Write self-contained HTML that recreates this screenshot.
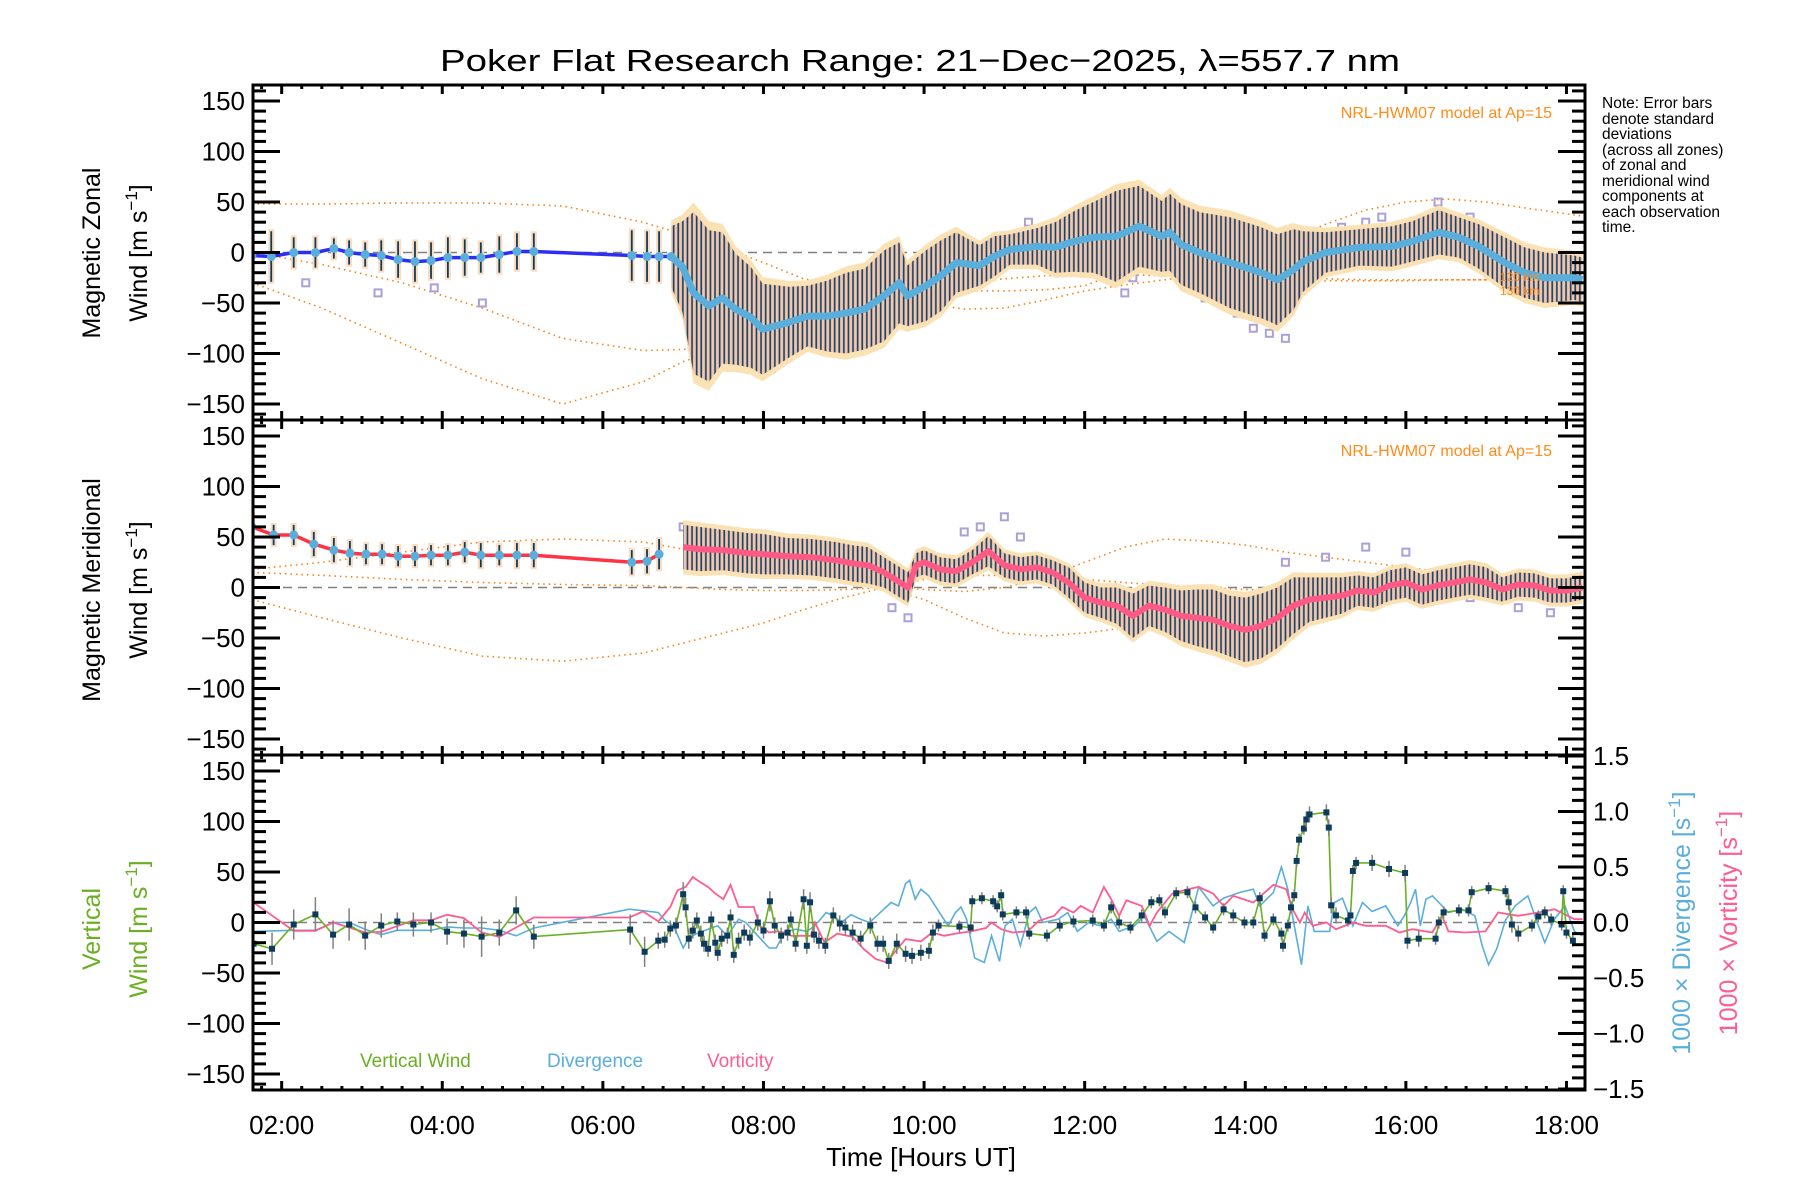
<!DOCTYPE html>
<html><head><meta charset="utf-8"><style>
html,body{margin:0;padding:0;background:#fff;}
svg{display:block;font-family:"Liberation Sans",sans-serif;}
</style></head>
<body>
<svg id="chart" width="1800" height="1200" viewBox="0 0 1800 1200" xmlns="http://www.w3.org/2000/svg">
<defs>
<pattern id="stripes" patternUnits="userSpaceOnUse" width="4.6" height="10">
<rect x="0" y="0" width="4.6" height="10" fill="#f6c6ab"/>
<rect x="1.2" y="0" width="1.7" height="10" fill="#16466b"/>
</pattern>
<clipPath id="clip1"><rect x="253" y="85" width="1332" height="335"/></clipPath>
<clipPath id="clip2"><rect x="253" y="420" width="1332" height="335"/></clipPath>
<clipPath id="clip3"><rect x="253" y="755" width="1332" height="335"/></clipPath>
</defs>
<g id="layer"></g>
<text x="920" y="71" font-size="31" text-anchor="middle" textLength="960" lengthAdjust="spacingAndGlyphs">Poker Flat Research Range: 21−Dec−2025, λ=557.7 nm</text>
<text x="1552" y="118" font-size="16" fill="#ff8c1a" text-anchor="end">NRL-HWM07 model at Ap=15</text>
<text x="1552" y="456" font-size="16" fill="#ff8c1a" text-anchor="end">NRL-HWM07 model at Ap=15</text>
<text x="1500" y="281" font-size="12" fill="#ff8c1a">120 km</text>
<text x="1500" y="295" font-size="12" fill="#ff8c1a">130 km</text>
<g font-size="15.5" fill="#000">
<text x="1602" y="108">Note: Error bars</text>
<text x="1602" y="124">denote standard</text>
<text x="1602" y="139">deviations</text>
<text x="1602" y="155">(across all zones)</text>
<text x="1602" y="170">of zonal and</text>
<text x="1602" y="186">meridional wind</text>
<text x="1602" y="201">components at</text>
<text x="1602" y="217">each observation</text>
<text x="1602" y="232">time.</text>
</g>
<text transform="translate(100,253) rotate(-90)" font-size="25" text-anchor="middle">Magnetic Zonal</text>
<text transform="translate(147,253) rotate(-90)" font-size="25" text-anchor="middle">Wind [m s<tspan dy="-10" font-size="17">−1</tspan><tspan dy="10">]</tspan></text>
<text transform="translate(100,590) rotate(-90)" font-size="25" text-anchor="middle">Magnetic Meridional</text>
<text transform="translate(147,590) rotate(-90)" font-size="25" text-anchor="middle">Wind [m s<tspan dy="-10" font-size="17">−1</tspan><tspan dy="10">]</tspan></text>
<text transform="translate(100,929) rotate(-90)" font-size="25" fill="#6ab023" text-anchor="middle">Vertical</text>
<text transform="translate(147,929) rotate(-90)" font-size="25" fill="#6ab023" text-anchor="middle">Wind [m s<tspan dy="-10" font-size="17">−1</tspan><tspan dy="10">]</tspan></text>
<text transform="translate(1690,923) rotate(-90)" font-size="25" fill="#5aaedc" text-anchor="middle">1000 × Divergence [s<tspan dy="-10" font-size="17">−1</tspan><tspan dy="10">]</tspan></text>
<text transform="translate(1737,923) rotate(-90)" font-size="25" fill="#ff5c8f" text-anchor="middle">1000 × Vorticity [s<tspan dy="-10" font-size="17">−1</tspan><tspan dy="10">]</tspan></text>
<text x="360" y="1067" font-size="19" fill="#6ab023">Vertical Wind</text>
<text x="547" y="1067" font-size="19" fill="#5aaedc">Divergence</text>
<text x="707" y="1067" font-size="19" fill="#ff5c8f">Vorticity</text>
<text x="921" y="1166" font-size="26" text-anchor="middle">Time [Hours UT]</text>
</svg>
<script>
// ---- data ----
const zonalHours=[1.63,1.87,2.15,2.42,2.65,2.84,3.04,3.24,3.45,3.66,3.86,4.07,4.28,4.48,4.71,4.93,5.14,6.36,6.55,6.7,6.85,6.99,7.13,7.32,7.49,7.65,7.84,7.99,8.32,8.55,8.79,9.03,9.26,9.5,9.69,9.79,10.02,10.21,10.4,10.69,10.87,11.07,11.4,11.63,11.87,12.11,12.39,12.68,12.96,13.06,13.2,13.43,13.81,14.2,14.4,14.6,14.72,15.0,15.42,15.83,16.08,16.41,16.66,16.91,17.23,17.48,17.73,18.1,18.2];
const zonalMean=[-3,-4,0,0,4,0,-2,-3,-7,-9,-8,-5,-5,-5,-2,1,1,-3,-4,-4,-4,-14,-40,-53,-45,-56,-64,-76,-69,-63,-63,-60,-56,-43,-30,-43,-33,-23,-10,-13,-4,3,6,5,11,15,16,26,16,20,8,0,-10,-20,-27,-17,-9,0,5,6,11,20,15,6,-10,-20,-25,-25,-27];
const zonalSd=[22,25,15,15,10,12,12,15,18,20,18,20,18,15,18,18,18,25,25,25,30,45,80,75,65,55,50,45,35,30,35,40,40,45,40,30,35,35,30,20,20,15,18,25,30,35,45,40,35,38,40,40,45,45,45,40,30,20,18,20,20,22,20,22,25,25,25,22,22];
const meridHours=[1.63,1.9,2.15,2.4,2.65,2.85,3.05,3.25,3.45,3.66,3.86,4.07,4.28,4.48,4.71,4.93,5.14,6.36,6.55,6.7,7.0,7.2,7.5,7.8,8.0,8.3,8.6,8.9,9.1,9.3,9.5,9.7,9.8,9.9,10.0,10.2,10.4,10.6,10.8,11.0,11.2,11.4,11.6,11.8,12.0,12.2,12.4,12.6,12.8,13.0,13.2,13.4,13.6,13.8,14.0,14.2,14.4,14.6,14.8,15.0,15.2,15.4,15.6,15.8,16.0,16.2,16.4,16.6,16.8,17.0,17.2,17.4,17.6,17.8,18.0,18.2];
const meridMean=[60,52,52,43,37,34,33,33,31,31,32,32,35,32,32,32,32,25,26,33,40,38,37,34,33,31,30,27,24,22,15,5,0,22,25,18,16,25,36,22,18,20,15,5,-10,-15,-18,-28,-18,-22,-28,-30,-32,-38,-42,-38,-30,-18,-12,-10,-8,-3,-5,2,5,-2,2,5,8,5,-2,3,2,-3,-3,0];
const meridSd=[12,10,10,12,12,12,10,10,10,10,10,10,10,12,10,12,12,12,12,15,22,22,20,20,20,18,18,18,18,18,15,15,15,12,12,12,12,12,15,12,12,12,12,15,15,15,18,22,20,22,25,28,30,30,32,32,30,28,22,20,18,15,15,15,15,15,15,15,15,15,12,12,12,12,12,12];
const modelHours=[1.63,2.5,3.5,4.5,5.5,6.5,7,7.5,8,8.5,9,9.5,10,10.5,11,11.5,12,12.5,13,13.5,14,14.5,15,15.5,16,16.5,17,17.5,18.2];
const zonalModelA=[48,48,49,49,46,30,18,5,-10,-26,-33,-42,-50,-56,-55,-47,-38,-32,-27,-21,-8,10,28,42,50,53,50,44,36];
const zonalModelB=[-30,-55,-90,-125,-150,-128,-108,-95,-85,-74,-62,-48,-40,-38,-38,-37,-33,-18,-8,-3,-8,-20,-26,-27,-27,-27,-27,-26,-26];
const zonalModelC=[0,-12,-30,-55,-85,-97,-96,-90,-80,-66,-55,-45,-36,-30,-26,-23,-22,-22,-23,-25,-27,-28,-28,-28,-28,-27,-27,-28,-30];
const meridModelA=[18,25,35,45,48,45,38,30,22,15,8,2,-2,-4,0,10,25,40,48,46,42,35,30,25,20,15,12,10,8];
const meridModelB=[-12,-30,-50,-68,-73,-65,-55,-45,-35,-22,-10,0,8,12,12,10,8,5,2,0,-2,-3,-3,0,3,5,6,5,4];
const meridModelC=[15,12,8,5,3,2,0,-2,-3,-3,-2,0,-12,-30,-45,-48,-45,-40,-30,-20,-10,-3,2,5,8,8,10,8,5];
const zonalZoneHours=[7.8,8.0,8.1,8.3,8.6,10.4,10.6,11.2,11.3,12.5,12.6,13.5,13.9,14.1,14.3,14.5,15.2,15.5,15.7,16.0,16.4,16.8,17.1,17.9,2.3,3.2,3.9,4.5];
const zonalZoneVals=[-90,-100,-115,-88,-80,-25,-30,-5,30,-40,-25,-45,-60,-75,-80,-85,25,30,35,-5,50,35,-10,-35,-30,-40,-35,-50];
const meridZoneHours=[7.0,7.3,7.6,8.4,8.8,9.6,9.8,10.5,10.7,11.0,11.2,12.3,12.6,13.0,13.4,13.8,14.2,14.5,15.0,15.5,16.0,16.4,16.8,17.4,17.8,18.1];
const meridZoneVals=[60,55,50,45,40,-20,-30,55,60,70,50,-20,-35,-40,-25,-30,-35,25,30,40,35,15,-10,-20,-25,5];
const vertHours=[1.65,1.88,2.15,2.42,2.64,2.84,3.04,3.24,3.44,3.64,3.86,4.06,4.27,4.49,4.71,4.92,5.14,6.34,6.52,6.69,6.77,6.84,6.91,7.0,7.03,7.07,7.12,7.17,7.22,7.26,7.31,7.35,7.4,7.43,7.48,7.55,7.59,7.63,7.69,7.76,7.83,7.93,8.0,8.08,8.14,8.22,8.3,8.34,8.4,8.5,8.54,8.58,8.63,8.69,8.77,8.87,8.95,9.02,9.11,9.21,9.33,9.42,9.49,9.56,9.66,9.77,9.85,9.96,10.06,10.11,10.18,10.44,10.58,10.6,10.72,10.86,10.91,10.96,10.98,11.15,11.27,11.31,11.53,11.69,11.86,12.1,12.24,12.33,12.43,12.57,12.71,12.83,12.93,13.0,13.14,13.28,13.38,13.5,13.6,13.73,13.85,13.99,14.1,14.18,14.24,14.35,14.45,14.47,14.53,14.57,14.61,14.64,14.67,14.73,14.76,14.8,15.01,15.04,15.07,15.13,15.28,15.31,15.34,15.38,15.58,15.79,15.99,16.02,16.16,16.37,16.41,16.47,16.66,16.78,16.82,17.03,17.24,17.28,17.32,17.4,17.57,17.65,17.73,17.81,17.94,17.96,18.0,18.08];
const vertWind=[-21,-26,-2,8,-12,-2,-13,-3,1,-2,0,-9,-11,-14,-10,12,-14,-7,-29,-18,-17,-6,-3,28,15,-16,-8,2,-11,-21,-26,3,-20,-30,-16,-13,5,-32,-18,-10,-15,0,-8,21,-3,-13,-10,3,-21,23,-23,20,-12,-18,-23,7,-1,-5,-10,-16,-3,-21,-21,-38,-21,-31,-33,-30,-28,-10,-3,-4,-5,21,24,21,16,27,8,10,10,-11,-13,-3,1,2,-3,15,0,-5,7,20,22,10,29,30,15,5,-5,13,7,0,0,24,-13,3,-11,-23,-3,15,27,61,82,93,102,107,109,94,17,7,2,7,51,59,59,53,49,-18,-16,-16,0,10,12,12,30,34,31,20,-2,-11,-3,6,10,3,-2,31,-10,-18];
const vertErr=[20,16,15,17,14,16,14,12,9,12,10,13,14,20,13,14,12,15,15,8,8,8,8,12,10,10,8,8,8,8,8,8,8,8,8,8,8,8,8,8,8,8,8,10,8,8,8,8,8,10,8,10,8,8,8,8,8,8,8,8,8,8,8,8,10,8,8,8,8,8,6,6,6,6,6,6,6,6,6,6,6,6,6,6,6,6,6,6,6,6,6,6,6,6,6,6,6,6,6,6,6,6,6,6,6,6,6,6,6,6,6,6,6,6,8,8,8,8,8,8,6,6,6,6,8,8,8,8,8,6,6,6,6,6,6,6,6,8,8,8,6,6,6,6,6,6,6,6,8,8];
const divHours=[1.65,2.15,2.42,2.64,2.84,3.04,3.24,3.44,3.64,3.86,4.06,4.27,4.49,4.71,4.92,5.14,6.33,6.46,6.69,6.77,6.88,7.0,7.07,7.17,7.31,7.43,7.55,7.69,7.78,7.93,8.07,8.16,8.26,8.4,8.54,8.64,8.78,8.87,8.97,9.09,9.21,9.32,9.44,9.59,9.68,9.77,9.82,9.89,9.96,10.06,10.2,10.3,10.39,10.46,10.53,10.63,10.75,10.84,10.94,11.01,11.1,11.2,11.31,11.39,11.48,11.67,11.79,11.91,12.05,12.19,12.33,12.43,12.62,12.74,12.9,13.05,13.24,13.42,13.6,13.73,13.93,14.1,14.18,14.35,14.45,14.53,14.61,14.7,14.78,14.86,15.05,15.11,15.21,15.34,15.46,15.58,15.75,15.9,15.98,16.06,16.12,16.18,16.25,16.33,16.41,16.53,16.7,16.86,16.95,17.03,17.13,17.24,17.36,17.52,17.65,17.73,17.85,17.98,18.1,18.2];
const divergence=[-0.08,-0.07,-0.07,0,0,-0.06,-0.11,-0.07,-0.07,-0.07,-0.04,-0.05,-0.05,-0.07,-0.12,-0.05,0.12,0.11,0.09,0.02,-0.03,-0.23,-0.14,-0.1,-0.06,-0.03,-0.12,0.03,0,-0.12,-0.23,-0.23,-0.09,-0.06,-0.08,-0.03,0.09,0.06,0,0.07,0.03,0,0.08,0.18,0.15,0.35,0.38,0.21,0.3,0.24,0.08,-0.03,0.09,0.14,0.03,-0.32,-0.36,-0.12,-0.35,-0.03,0.03,-0.21,0.09,0.14,0,0.03,0.09,-0.08,0,-0.03,0.03,-0.08,-0.03,0.06,-0.17,-0.08,-0.18,0.32,0.15,0.22,0.27,0.3,0.15,0.27,0.5,0.3,-0.03,-0.38,0.15,-0.08,-0.08,0.18,0.22,-0.03,0.18,0.1,0.15,-0.03,0.06,0.18,0.3,-0.03,0.21,0.24,0.18,0.09,0.12,0.06,-0.21,-0.38,-0.24,0.02,0.15,0.24,-0.03,-0.18,0.03,0.15,-0.08,-0.12];
const vortHours=[1.63,2.15,2.42,2.64,3.04,3.24,3.64,3.86,4.06,4.27,4.49,4.71,5.14,6.33,6.5,6.69,6.84,6.93,7.03,7.12,7.22,7.31,7.4,7.5,7.59,7.69,7.78,7.88,7.95,8.07,8.16,8.26,8.35,8.59,8.64,8.76,8.92,9.11,9.25,9.4,9.54,9.63,9.77,9.96,10.1,10.25,10.39,10.58,10.77,10.84,10.96,11.1,11.29,11.43,11.62,11.72,11.86,11.95,12.1,12.24,12.33,12.43,12.52,12.71,12.81,12.9,13.09,13.28,13.42,13.6,13.73,13.85,14.1,14.35,14.51,14.59,14.68,14.74,14.84,15.01,15.13,15.34,15.5,15.75,15.92,16.08,16.33,16.45,16.53,16.74,16.99,17.15,17.4,17.65,17.85,18.1,18.2];
const vorticity=[0.19,-0.075,-0.075,0,-0.09,-0.085,0.02,0.02,0.07,0.04,-0.09,-0.13,0.045,0.045,0.1,0.01,0.14,0.29,0.32,0.41,0.36,0.32,0.26,0.21,0.34,0.14,0.14,0.14,-0.03,-0.09,-0.08,-0.09,-0.12,-0.12,0,-0.18,-0.1,-0.13,-0.24,-0.33,-0.36,-0.27,-0.15,-0.17,-0.09,-0.12,-0.1,-0.08,-0.05,0,-0.06,-0.09,-0.08,0.015,0.06,0.14,0.09,0.15,0.09,0.32,0.21,0.06,0.2,0.15,-0.03,0.09,0.26,0.3,0.32,0.26,0.15,0.24,0.18,0.34,0.3,0.12,0,0.09,-0.03,0,-0.06,0,-0.03,-0.03,-0.09,-0.06,-0.09,0.06,-0.08,-0.09,-0.08,0.09,0.06,0.09,0.12,0.03,0.03];
const leftTicks=[150,100,50,0,-50,-100,-150];
const leftTickLabels=["150","100","50","0","−50","−100","−150"];
const rightTicks=[1.5,1.0,0.5,0,-0.5,-1.0,-1.5];
const rightTickLabels=["1.5","1.0","0.5","0.0","−0.5","−1.0","−1.5"];
const timeTicks=[2,4,6,8,10,12,14,16,18];
const timeTickLabels=["02:00","04:00","06:00","08:00","10:00","12:00","14:00","16:00","18:00"];

// ---- axes ----
const X0=253,X1=1585,H0=1.643,PXH=80.3;
const panelTop=[85,420,755],PH=335,UNIT=1.01,RUNIT=111;
const X=h=>X0+(h-H0)*PXH;
const Y=(p,v)=>panelTop[p]+PH/2-v*UNIT;
const YR=r=>panelTop[2]+PH/2-r*RUNIT;
const NS="http://www.w3.org/2000/svg";
const layer=document.getElementById('layer');
function mk(tag,attrs,parent){const e=document.createElementNS(NS,tag);for(const k in attrs)e.setAttribute(k,attrs[k]);(parent||layer).appendChild(e);return e;}
function pts(hs,vs,f){return hs.map((h,i)=>X(h).toFixed(1)+','+f(vs[i]).toFixed(1)).join(' ');}

const panelNames=['zonal-panel','meridional-panel','vertical-panel'];
const panels=[];
for(let p=0;p<3;p++){
  const g=mk('g',{'clip-path':'url(#clip'+(p+1)+')'});
  
  
  panels.push(g);
  const z=mk('line',{x1:X0,x2:X1,y1:Y(p,0),y2:Y(p,0),stroke:'#808080','stroke-width':1.5,'stroke-dasharray':'9 6'},g);
  
  
}

function modelLine(p,vals,name){
  const e=mk('polyline',{points:pts(modelHours,vals,v=>Y(p,v)),fill:'none',stroke:'#ff7f0e','stroke-width':1.6,'stroke-dasharray':'1.5 4'},panels[p]);
  
  
}
function windPanel(p,hs,mean,sd,zh,zv,earlyColor,lateColor,lateWidth,pre){
  const g=panels[p];
  zh.forEach((h,i)=>{const r=mk('rect',{x:X(h)-3.5,y:Y(p,zv[i])-3.5,width:7,height:7,fill:'none',stroke:'#a9a1d8','stroke-width':2},g);
    
    });
  const idx=hs.map((h,i)=>i).filter(i=>hs[i]>=6.8);
  const up=idx.map(i=>X(hs[i]).toFixed(1)+','+Y(p,mean[i]+sd[i]*1.08+3).toFixed(1));
  const dn=idx.slice().reverse().map(i=>X(hs[i]).toFixed(1)+','+Y(p,mean[i]-sd[i]*1.08-3).toFixed(1));
  const halo=mk('polygon',{points:up.concat(dn).join(' '),fill:'#fbe2b4'},g);
  
  
  const up2=idx.map(i=>X(hs[i]).toFixed(1)+','+Y(p,mean[i]+sd[i]).toFixed(1));
  const dn2=idx.slice().reverse().map(i=>X(hs[i]).toFixed(1)+','+Y(p,mean[i]-sd[i]).toFixed(1));
  const band=mk('polygon',{points:up2.concat(dn2).join(' '),fill:'url(#stripes)'},g);
  
  
  hs.forEach((h,i)=>{ if(h>=6.8) return;
    const r=mk('rect',{x:X(h)-3,y:Y(p,mean[i]+sd[i]+2),width:6,height:(2*sd[i]+4)*UNIT,fill:'#fbdcc0'},g);
    
    
    const l=mk('line',{x1:X(h),x2:X(h),y1:Y(p,mean[i]+sd[i]),y2:Y(p,mean[i]-sd[i]),stroke:'#0c3b5c','stroke-width':1.8},g);
    
    
  });
  const ei=hs.map((h,i)=>i).filter(i=>hs[i]<=6.86);
  const early=mk('polyline',{points:ei.map(i=>X(hs[i]).toFixed(1)+','+Y(p,mean[i]).toFixed(1)).join(' '),fill:'none',stroke:earlyColor,'stroke-width':3.5},g);
  
  
  ei.forEach(i=>{const c=mk('circle',{cx:X(hs[i]),cy:Y(p,mean[i]),r:4.5,fill:'#5aaedc'},g);
    
    });
  const late=mk('polyline',{points:idx.map(i=>X(hs[i]).toFixed(1)+','+Y(p,mean[i]).toFixed(1)).join(' '),fill:'none',stroke:lateColor,'stroke-width':lateWidth,'stroke-linejoin':'round'},g);
  
  
}
modelLine(0,zonalModelA,'zonal-model-a');modelLine(0,zonalModelB,'zonal-model-b');modelLine(0,zonalModelC,'zonal-model-c');
modelLine(1,meridModelA,'meridional-model-a');modelLine(1,meridModelB,'meridional-model-b');modelLine(1,meridModelC,'meridional-model-c');
windPanel(0,zonalHours,zonalMean,zonalSd,zonalZoneHours,zonalZoneVals,'#2d2df5','#5aaedc',7,'zonal');
windPanel(1,meridHours,meridMean,meridSd,meridZoneHours,meridZoneVals,'#ff3344','#ff5a85',6,'meridional');

const g3=panels[2];
const dl=mk('polyline',{points:pts(divHours,divergence,YR),fill:'none',stroke:'#5aaedc','stroke-width':1.6},g3);


const vl=mk('polyline',{points:pts(vortHours,vorticity,YR),fill:'none',stroke:'#ff5c8f','stroke-width':1.8},g3);


const wl=mk('polyline',{points:pts(vertHours,vertWind,v=>Y(2,v)),fill:'none',stroke:'#6ab023','stroke-width':1.6},g3);


vertHours.forEach((h,i)=>{
  const e=mk('line',{x1:X(h),x2:X(h),y1:Y(2,vertWind[i]+vertErr[i]),y2:Y(2,vertWind[i]-vertErr[i]),stroke:'#808080','stroke-width':1.5},g3);
  
  
  const r=mk('rect',{x:X(h)-3,y:Y(2,vertWind[i])-3,width:6,height:6,fill:'#0c3b5c'},g3);
  
  
});

const axg=mk('g',{stroke:'#000',fill:'none'});


for(let p=0;p<3;p++){
  const t=panelTop[p];
  const fr=mk('rect',{x:X0,y:t,width:X1-X0,height:PH,'stroke-width':3},axg);
  
  
  for(let v=-160;v<=160;v+=10){
    const major=v%50===0, L=major?27:13, y=Y(p,v);
    mk('line',{x1:X0,x2:X0+L,y1:y,y2:y,'stroke-width':3},axg);
    if(p<2) mk('line',{x1:X1,x2:X1-L,y1:y,y2:y,'stroke-width':3},axg);
  }
  if(p===2){ for(let k=-16;k<=16;k++){const r=k/10, major=k%5===0, L=major?27:13, y=YR(r);
    if(y<t||y>t+PH) continue;
    mk('line',{x1:X1,x2:X1-L,y1:y,y2:y,'stroke-width':3},axg);} }
  for(let q=7;q<=72;q++){const h=q/4; if(h<H0||h>18.23) continue; const major=(q%8===0), L=major?9:4, x=X(h);
    mk('line',{x1:x,x2:x,y1:t,y2:t+L,'stroke-width':3},axg);
    mk('line',{x1:x,x2:x,y1:t+PH,y2:t+PH-L,'stroke-width':3},axg);}
  leftTicks.forEach((v,i)=>{const tx=mk('text',{x:245,y:Y(p,v)+9,'font-size':26,'text-anchor':'end',fill:'#000',stroke:'none'});
    tx.textContent=leftTickLabels[i];
    
    });
}
rightTicks.forEach((r,i)=>{const tx=mk('text',{x:1593,y:YR(r)+9,'font-size':26,fill:'#000'});
  tx.textContent=rightTickLabels[i];
  
  });
timeTicks.forEach((h,i)=>{const tx=mk('text',{x:X(h),y:1134,'font-size':26,'text-anchor':'middle',fill:'#000'});
  tx.textContent=timeTickLabels[i];
  
  });
</script>
</body></html>
